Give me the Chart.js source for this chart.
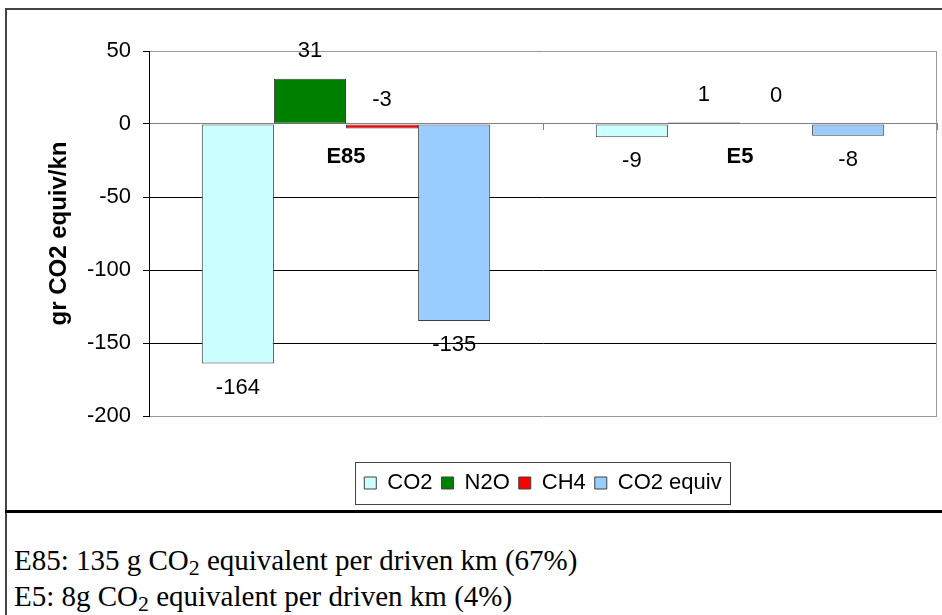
<!DOCTYPE html>
<html>
<head>
<meta charset="utf-8">
<title>Emission balance per driven km</title>
<script src="https://cdn.jsdelivr.net/npm/chart.js@4/dist/chart.umd.min.js"></script>
<style>
  html, body { margin: 0; padding: 0; background: #fff; }
  #wrap { position: relative; width: 942px; height: 615px; overflow: hidden; background: #fff; }
  #c { position: absolute; left: 0; top: 0; }
  .frame-top { position: absolute; left: 5px; top: 8px; width: 937px; height: 2px; background: #444; }
  .frame-left { position: absolute; left: 5px; top: 8px; width: 2px; height: 607px; background: #444; }
  .rule { position: absolute; left: 5px; top: 510px; width: 937px; height: 3px; background: #000; }
  .note {
    position: absolute; left: 14px;
    font-family: "Liberation Serif", "Times New Roman", serif;
    font-size: 29px; line-height: 1; color: #000; white-space: nowrap;
  }
  .note sub { font-size: 0.75em; vertical-align: baseline; position: relative; top: 0.25em; }
</style>
</head>
<body>
<div id="wrap">
  <canvas id="c" width="942" height="512"></canvas>
  <div class="frame-top"></div>
  <div class="frame-left"></div>
  <div class="rule"></div>
  <div class="note" style="top:546px">E85: 135 g CO<sub>2</sub> equivalent per driven km (67%)</div>
  <div class="note" style="top:582px">E5: 8g CO<sub>2</sub> equivalent per driven km (4%)</div>
</div>
<script>
// Fuel blends on the category axis
const categories = ['E85', 'E5'];
// Gas series, g CO2 equivalent per km
const seriesNames = ['CO2', 'N2O', 'CH4', 'CO2 equiv'];
const co2 = [-164, -9];
const n2o = [31, 1];
const ch4 = [-3, 0];
const co2Equiv = [-135, -8];
// Value axis
const yTicks = [50, 0, -50, -100, -150, -200];
const yTitle = 'gr CO2 equiv/kn';

const SANS = '"Liberation Sans", Arial, Helvetica, sans-serif';
const seriesValues = [co2, n2o, ch4, co2Equiv];
const seriesFill = ['#CCFFFF', '#008000', '#FF0000', '#99CCFF'];

const datasets = seriesNames.map((name, i) => ({
  label: name,
  data: seriesValues[i],
  backgroundColor: seriesFill[i],
  borderColor: '#404040',
  borderWidth: 1,
  borderSkipped: false,
  xAxisID: 'x',
  yAxisID: 'y'
}));

// Value labels: above the bar end for positive / near-zero values, below otherwise
const valueLabels = {
  id: 'valueLabels',
  afterDatasetsDraw(chart) {
    const ctx = chart.ctx;
    ctx.save();
    ctx.font = '22px ' + SANS;
    ctx.fillStyle = '#000';
    ctx.textAlign = 'center';
    ctx.textBaseline = 'middle';
    chart.data.datasets.forEach((ds, i) => {
      const meta = chart.getDatasetMeta(i);
      meta.data.forEach((bar, j) => {
        const v = ds.data[j];
        const y = v > -5 ? bar.y - 28 : bar.y + 24;
        ctx.fillText(String(v), bar.x, y);
      });
    });
    ctx.restore();
  }
};

// Right edge of the plot area and the box around the legend
const plotFrame = {
  id: 'plotFrame',
  beforeDatasetsDraw(chart) {
    const {ctx, chartArea: a} = chart;
    ctx.save();
    ctx.strokeStyle = '#999';
    ctx.lineWidth = 1;
    const x = Math.round(a.right) - 0.5;
    ctx.beginPath();
    ctx.moveTo(x, Math.round(a.top));
    ctx.lineTo(x, Math.round(a.bottom));
    ctx.stroke();
    ctx.restore();
  },
  afterDraw(chart) {
    const hb = chart.legend && chart.legend.legendHitBoxes;
    if (!hb || !hb.length) return;
    const ctx = chart.ctx;
    const last = hb[hb.length - 1];
    const l = hb[0].left - 9;
    const r = last.left + last.width + 9;
    const cy = hb[0].top + hb[0].height / 2;
    ctx.save();
    ctx.strokeStyle = '#444';
    ctx.lineWidth = 1;
    ctx.strokeRect(Math.round(l) + 0.5, Math.round(cy - 21) + 0.5, Math.round(r - l), 42);
    ctx.restore();
  }
};

new Chart(document.getElementById('c'), {
  type: 'bar',
  data: { labels: categories, datasets },
  plugins: [valueLabels, plotFrame],
  options: {
    responsive: false,
    animation: false,
    devicePixelRatio: 1,
    layout: { padding: { top: 51, right: 5, bottom: 8, left: 0 } },
    datasets: { bar: { categoryPercentage: 0.732, barPercentage: 1.0 } },
    scales: {
      x: {
        type: 'category',
        position: { y: 0 },
        grid: { drawOnChartArea: false, drawTicks: true, tickLength: 6, color: '#808080' },
        border: { color: '#808080', width: 1 },
        ticks: { color: '#000', padding: 14, font: { family: SANS, size: 22, weight: 'bold' } }
      },
      xSpacer: {
        type: 'category',
        labels: categories,
        position: 'bottom',
        grid: { display: false },
        border: { display: false },
        ticks: { display: false },
        afterFit(s) { s.height = 47; }
      },
      y: {
        min: yTicks[yTicks.length - 1],
        max: yTicks[0],
        afterFit(s) { s.width = 149; },
        afterBuildTicks(s) { s.ticks = yTicks.map(v => ({ value: v })); },
        ticks: {
          color: '#000',
          padding: 12,
          font: { family: SANS, size: 22 },
          callback: v => String(v)
        },
        grid: {
          color: c => ([50, 0, -200].includes(c.tick && c.tick.value) ? '#999' : '#000'),
          tickColor: '#000',
          tickLength: 6,
          lineWidth: 1
        },
        border: { color: '#000', width: 1 },
        title: {
          display: true,
          text: yTitle,
          color: '#000',
          padding: { top: 45, bottom: 0 },
          font: { family: SANS, size: 24, weight: 'bold' }
        }
      }
    },
    plugins: {
      legend: {
        position: 'bottom',
        fullSize: false,
        labels: {
          boxWidth: 12,
          boxHeight: 12,
          padding: 9,
          color: '#000',
          font: { family: SANS, size: 22 }
        }
      },
      tooltip: { enabled: false },
      title: { display: false }
    }
  }
});
</script>
</body>
</html>
